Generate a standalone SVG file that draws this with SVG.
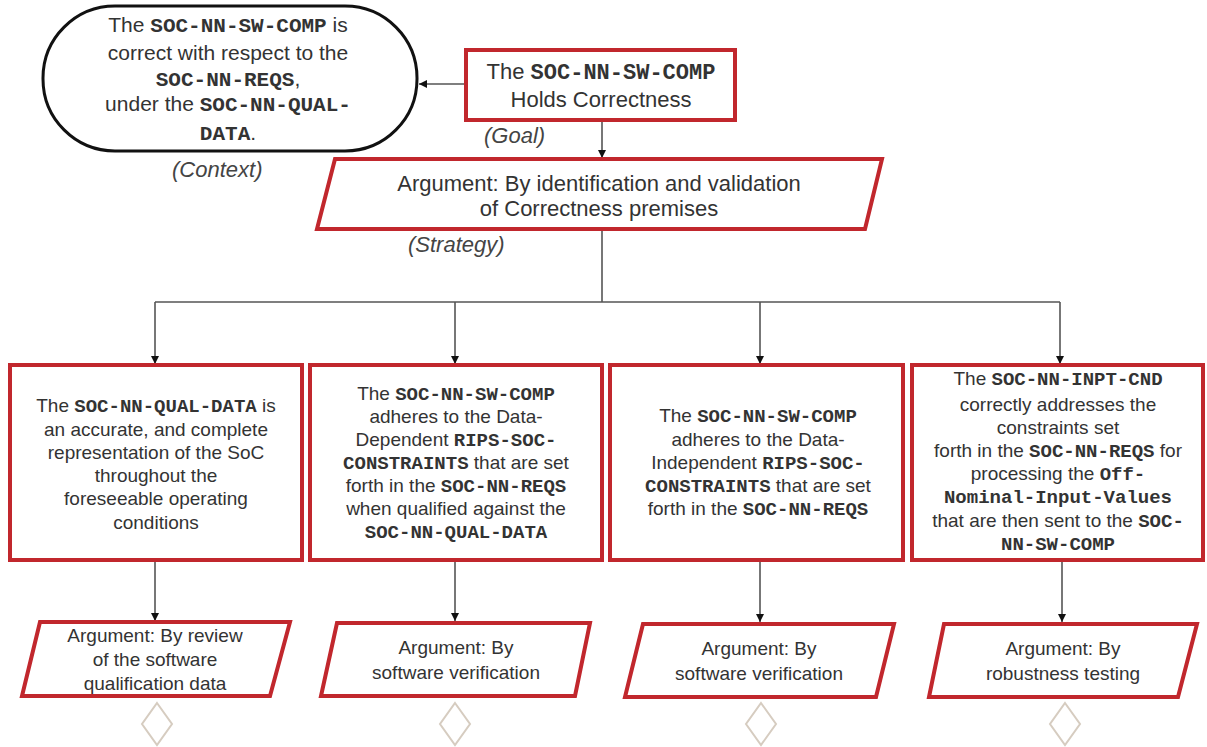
<svg xmlns="http://www.w3.org/2000/svg" width="1207" height="747" viewBox="0 0 1207 747">
<style>
  .red { fill: #ffffff; stroke: #c1272d; stroke-width: 4; stroke-linejoin: miter; }
  .ctx { fill: #ffffff; stroke: #111111; stroke-width: 3; }
  .conn { fill: none; stroke: #555555; stroke-width: 1.6; }
  .dia { fill: none; stroke: #d6ccc0; stroke-width: 2; }
  text { font-family: "Liberation Sans", Arial, sans-serif; fill: #333333; text-anchor: middle; }
  .t19 { font-size: 19px; }
  .t21 { font-size: 21px; }
  .t22 { font-size: 22px; }
  .m { font-family: "Liberation Mono", "Courier New", monospace; font-weight: bold; }
  .lbl { font-style: italic; font-size: 22px; fill: #444444; text-anchor: start; }
</style>
<defs>
  <marker id="arr" markerWidth="9" markerHeight="9" refX="8" refY="4" orient="auto" markerUnits="userSpaceOnUse">
    <path d="M0,0 L8,4 L0,8 z" fill="#111111"/>
  </marker>
</defs>

<g id="connectors">
  <line class="conn" x1="466" y1="84" x2="419" y2="84" marker-end="url(#arr)"/>
  <line class="conn" x1="602" y1="120" x2="602" y2="158" marker-end="url(#arr)"/>
  <line class="conn" x1="602" y1="229" x2="602" y2="302"/>
  <line class="conn" x1="155" y1="302" x2="1060" y2="302"/>
  <line class="conn" x1="155" y1="302" x2="155" y2="364" marker-end="url(#arr)"/>
  <line class="conn" x1="455" y1="302" x2="455" y2="364" marker-end="url(#arr)"/>
  <line class="conn" x1="760" y1="302" x2="760" y2="364" marker-end="url(#arr)"/>
  <line class="conn" x1="1060" y1="302" x2="1060" y2="364" marker-end="url(#arr)"/>
  <line class="conn" x1="155" y1="560" x2="155" y2="621" marker-end="url(#arr)"/>
  <line class="conn" x1="455" y1="560" x2="455" y2="621" marker-end="url(#arr)"/>
  <line class="conn" x1="760" y1="560" x2="760" y2="622" marker-end="url(#arr)"/>
  <line class="conn" x1="1062" y1="560" x2="1062" y2="622" marker-end="url(#arr)"/>
</g>

<g id="context">
  <rect class="ctx" x="43" y="6" width="374" height="145" rx="72" ry="72"/>
  <text class="t21" x="228" y="32">The <tspan class="m">SOC-NN-SW-COMP</tspan>  is</text>
  <text class="t21" x="228" y="60">correct with respect to the</text>
  <text class="t21" x="228" y="86"><tspan class="m">SOC-NN-REQS</tspan>,</text>
  <text class="t21" x="228" y="111">under the <tspan class="m">SOC-NN-QUAL-</tspan></text>
  <text class="t21" x="228" y="140"><tspan class="m">DATA</tspan>.</text>
  <text class="lbl" x="172" y="177">(Context)</text>
</g>

<g id="goal">
  <rect class="red" x="466" y="50" width="269" height="70"/>
  <text class="t22" x="601" y="79">The <tspan class="m">SOC-NN-SW-COMP</tspan></text>
  <text class="t22" x="601" y="107">Holds Correctness</text>
  <text class="lbl" x="484" y="143">(Goal)</text>
</g>

<g id="strategy">
  <polygon class="red" points="335,159 882,159 865,229 317,229"/>
  <text class="t22" x="599" y="191">Argument: By identification and validation</text>
  <text class="t22" x="599" y="216">of Correctness premises</text>
  <text class="lbl" x="408" y="252">(Strategy)</text>
</g>

<g id="claim1">
  <rect class="red" x="10" y="365" width="292" height="195"/>
  <text class="t19" x="156" y="412">The <tspan class="m">SOC-NN-QUAL-DATA</tspan> is</text>
  <text class="t19" x="156" y="436">an accurate, and complete</text>
  <text class="t19" x="156" y="459">representation of the SoC</text>
  <text class="t19" x="156" y="482">throughout  the</text>
  <text class="t19" x="156" y="505">foreseeable operating</text>
  <text class="t19" x="156" y="529">conditions</text>
</g>

<g id="claim2">
  <rect class="red" x="310" y="365" width="292" height="195"/>
  <text class="t19" x="456" y="400">The <tspan class="m">SOC-NN-SW-COMP</tspan></text>
  <text class="t19" x="456" y="423">adheres to the Data-</text>
  <text class="t19" x="456" y="446">Dependent <tspan class="m">RIPS-SOC-</tspan></text>
  <text class="t19" x="456" y="469"><tspan class="m">CONSTRAINTS</tspan> that are set</text>
  <text class="t19" x="456" y="492">forth in the <tspan class="m">SOC-NN-REQS</tspan></text>
  <text class="t19" x="456" y="515">when qualified against the</text>
  <text class="t19" x="456" y="538"><tspan class="m">SOC-NN-QUAL-DATA</tspan></text>
</g>

<g id="claim3">
  <rect class="red" x="610" y="365" width="293" height="195"/>
  <text class="t19" x="758" y="422">The <tspan class="m">SOC-NN-SW-COMP</tspan></text>
  <text class="t19" x="758" y="446">adheres to the Data-</text>
  <text class="t19" x="758" y="469">Independent <tspan class="m">RIPS-SOC-</tspan></text>
  <text class="t19" x="758" y="492"><tspan class="m">CONSTRAINTS</tspan> that are set</text>
  <text class="t19" x="758" y="515">forth in the <tspan class="m">SOC-NN-REQS</tspan></text>
</g>

<g id="claim4">
  <rect class="red" x="912" y="365" width="291" height="195"/>
  <text class="t19" x="1058" y="385">The <tspan class="m">SOC-NN-INPT-CND</tspan></text>
  <text class="t19" x="1058" y="411">correctly addresses the</text>
  <text class="t19" x="1058" y="434">constraints set</text>
  <text class="t19" x="1058" y="457">forth in the <tspan class="m">SOC-NN-REQS</tspan> for</text>
  <text class="t19" x="1058" y="480">processing the <tspan class="m">Off-</tspan></text>
  <text class="t19" x="1058" y="503"><tspan class="m">Nominal-Input-Values</tspan></text>
  <text class="t19" x="1058" y="527">that are then sent to the <tspan class="m">SOC-</tspan></text>
  <text class="t19" x="1058" y="550"><tspan class="m">NN-SW-COMP</tspan></text>
</g>

<g id="arg1">
  <polygon class="red" points="40,622 290,622 270,696 22,696"/>
  <text class="t19" x="155" y="642">Argument:  By review</text>
  <text class="t19" x="155" y="666">of the software</text>
  <text class="t19" x="155" y="690">qualification data</text>
</g>

<g id="arg2">
  <polygon class="red" points="337,623 590,623 575,696 321,696"/>
  <text class="t19" x="456" y="654">Argument:  By</text>
  <text class="t19" x="456" y="679">software verification</text>
</g>

<g id="arg3">
  <polygon class="red" points="643,624 894,624 876,697 625,697"/>
  <text class="t19" x="759" y="655">Argument:  By</text>
  <text class="t19" x="759" y="680">software verification</text>
</g>

<g id="arg4">
  <polygon class="red" points="944,624 1197,624 1178,697 929,697"/>
  <text class="t19" x="1063" y="655">Argument:  By</text>
  <text class="t19" x="1063" y="680">robustness testing</text>
</g>

<g id="undev1"><polygon class="dia" points="157,703 172,724 157,745 142,724"/></g>
<g id="undev2"><polygon class="dia" points="455,703 470,724 455,745 440,724"/></g>
<g id="undev3"><polygon class="dia" points="761,703 776,724 761,745 746,724"/></g>
<g id="undev4"><polygon class="dia" points="1065,703 1080,724 1065,745 1050,724"/></g>
</svg>
